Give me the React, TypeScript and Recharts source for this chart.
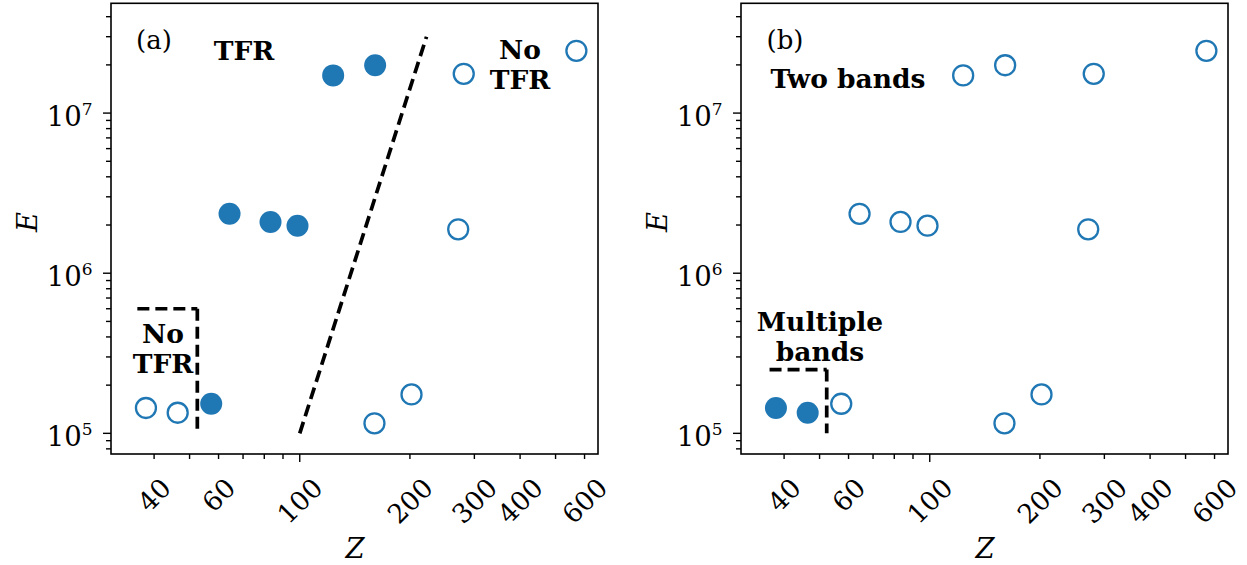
import React from "react";
import { ScatterChart, Scatter, XAxis, YAxis, ReferenceLine } from "recharts";

// nucleus size Z and energy E
const zValues = [38, 46.4, 57.3, 64.3, 83.2, 98.6, 123.4, 160.7, 280.6, 570, 271, 160, 202];
const eValues = [1.44e5, 1.345e5, 1.53e5, 2.35e6, 2.09e6, 1.98e6, 1.72e7, 1.99e7, 1.76e7, 2.45e7, 1.88e6, 1.155e5, 1.75e5];
// filled marker flags per panel
const tfrFlags = [0, 0, 1, 1, 1, 1, 1, 1, 0, 0, 0, 0, 0];
const multiBandFlags = [1, 1, 0, 0, 0, 0, 0, 0, 0, 0, 0, 0, 0];

const xTicks = [40, 50, 60, 70, 80, 90, 100, 200, 300, 400, 500, 600];
const xTickLabels = ["40", "", "60", "", "", "", "100", "200", "300", "400", "", "600"];
const yTicks = [8e4, 9e4, 1e5, 2e5, 3e5, 4e5, 5e5, 6e5, 7e5, 8e5, 9e5, 1e6, 2e6, 3e6, 4e6, 5e6, 6e6, 7e6, 8e6, 9e6, 1e7, 2e7, 3e7, 4e7];
const yMajorExp: Record<number, number> = { 100000: 5, 1000000: 6, 10000000: 7 };

// dashed guides
const tfrBoundary = [{ z: 100, e: 1e5 }, { z: 222, e: 3e7 }];
const noTfrBox = [{ z: 36, e: 6e5 }, { z: 52.5, e: 6e5 }, { z: 52.5, e: 1e5 }];
const multiBandBox = [{ z: 36.5, e: 2.5e5 }, { z: 52.3, e: 2.5e5 }, { z: 52.3, e: 1e5 }];

const X_DOMAIN: [number, number] = [30.5, 653];
const Y_DOMAIN: [number, number] = [7.43e4, 4.87e7];

const FONT = "DejaVu Serif";
const BLUE = "#1f77b4";
const W = 620;
const H = 565;
const M = { top: 3, right: 22, bottom: 0, left: 0 };
const Y_W = 111;
const X_H = 111;

const XTick = (props: any) => {
  const { x, y, payload } = props;
  const v = payload.value;
  const label = xTickLabels[xTicks.indexOf(v)] ?? "";
  const len = v === 100 ? 8 : 5;
  const fs = 26.5;
  const w = label.length * 0.636 * fs;
  const h = 0.729 * fs;
  const cy = y + 22 + ((w + h) * 0.7071) / 2;
  return (
    <g>
      <line x1={x} x2={x} y1={y} y2={y + len} stroke="#000" strokeWidth={1.4} />
      {label && (
        <text
          transform={`translate(${x},${cy}) rotate(-45)`}
          textAnchor="middle"
          dy="0.36em"
          fontSize={fs}
          fontFamily={FONT}
          fill="#000"
        >
          {label}
        </text>
      )}
    </g>
  );
};

const YTick = (props: any) => {
  const { x, y, payload } = props;
  const exp = yMajorExp[payload.value];
  const len = exp ? 8 : 5;
  return (
    <g>
      <line x1={x - len} x2={x} y1={y} y2={y} stroke="#000" strokeWidth={1.4} />
      {exp && (
        <text x={x - 18.5} y={y + 12.5} textAnchor="end" fontFamily={FONT} fill="#000">
          <tspan fontSize={27.5}>10</tspan>
          <tspan fontSize={17} dy={-11}>{exp}</tspan>
        </text>
      )}
    </g>
  );
};

const dot = (filled: boolean) => (p: any) =>
  filled ? (
    <circle cx={p.cx} cy={p.cy} r={11} fill={BLUE} />
  ) : (
    <circle cx={p.cx} cy={p.cy} r={10} fill="#fff" stroke={BLUE} strokeWidth={2.3} />
  );

const guide = (pts: { z: number; e: number }[], key: string) =>
  pts.slice(1).map((p, i) => (
    <ReferenceLine
      key={key + i}
      segment={[{ x: pts[i].z, y: pts[i].e }, { x: p.z, y: p.e }]}
      stroke="#000"
      strokeWidth={3.7}
      strokeDasharray="12 6"
      ifOverflow="visible"
    />
  ));

interface Note {
  lines: string[];
  x: number;
  y: number;
  bold?: boolean;
}

function Panel({ left, flags, guides, notes }: { left: number; flags: number[]; guides: { z: number; e: number }[][]; notes: Note[] }) {
  const all = zValues.map((z, i) => ({ z, e: eValues[i], f: flags[i] }));
  const filled = all.filter((d) => d.f);
  const open = all.filter((d) => !d.f);
  const plotL = Y_W;
  const plotR = W - M.right;
  const plotT = M.top;
  const plotB = H - X_H;
  return (
    <div style={{ position: "absolute", left, top: 0, width: W, height: H }}>
      <ScatterChart width={W} height={H} margin={M}>
        <XAxis
          dataKey="z"
          type="number"
          scale="log"
          domain={X_DOMAIN}
          allowDataOverflow
          ticks={xTicks}
          interval={0}
          tick={<XTick />}
          tickLine={false}
          axisLine={false}
          tickSize={0}
          tickMargin={0}
          height={X_H}
        />
        <YAxis
          dataKey="e"
          type="number"
          scale="log"
          domain={Y_DOMAIN}
          allowDataOverflow
          ticks={yTicks}
          interval={0}
          tick={<YTick />}
          tickLine={false}
          axisLine={false}
          tickSize={0}
          tickMargin={0}
          width={Y_W}
        />
        {guides.map((g, i) => guide(g, "g" + i))}
        <Scatter data={open} shape={dot(false)} isAnimationActive={false} />
        <Scatter data={filled} shape={dot(true)} isAnimationActive={false} />
      </ScatterChart>
      <svg width={W} height={H} style={{ position: "absolute", left: 0, top: 0, pointerEvents: "none" }}>
        <rect x={plotL} y={plotT + 0.3} width={plotR - plotL} height={plotB - plotT - 0.3} fill="none" stroke="#000" strokeWidth={1.6} />
        {notes.map((n, i) =>
          n.lines.map((t, j) => (
            <text
              key={i + "-" + j}
              x={n.x}
              y={n.y + j * 30}
              dy="0.36em"
              textAnchor="middle"
              fontFamily={FONT}
              fontWeight={n.bold === false ? "normal" : "bold"}
              fontSize={n.bold === false ? 26 : 26.5}
              fill="#000"
            >
              {t}
            </text>
          ))
        )}
        <text
          transform="translate(27,222) rotate(-90)"
          textAnchor="middle"
          dy="0.36em"
          fontFamily={FONT}
          fontStyle="italic"
          fontSize={27.5}
        >
          E
        </text>
        <text x={355} y={548} textAnchor="middle" dy="0.36em" fontFamily={FONT} fontStyle="italic" fontSize={27.5}>
          Z
        </text>
      </svg>
    </div>
  );
}

export default function App() {
  return (
    <div style={{ position: "absolute", left: 0, top: 0, width: 1247, height: 565, background: "#fff" }}>
      <Panel
        left={0}
        flags={tfrFlags}
        guides={[tfrBoundary, noTfrBox]}
        notes={[
          { lines: ["(a)"], x: 154, y: 40, bold: false },
          { lines: ["TFR"], x: 244, y: 50 },
          { lines: ["No", "TFR"], x: 520, y: 49 },
          { lines: ["No", "TFR"], x: 163, y: 333 },
        ]}
      />
      <Panel
        left={630}
        flags={multiBandFlags}
        guides={[multiBandBox]}
        notes={[
          { lines: ["(b)"], x: 155, y: 40, bold: false },
          { lines: ["Two bands"], x: 218, y: 78 },
          { lines: ["Multiple", "bands"], x: 190, y: 321 },
        ]}
      />
    </div>
  );
}
